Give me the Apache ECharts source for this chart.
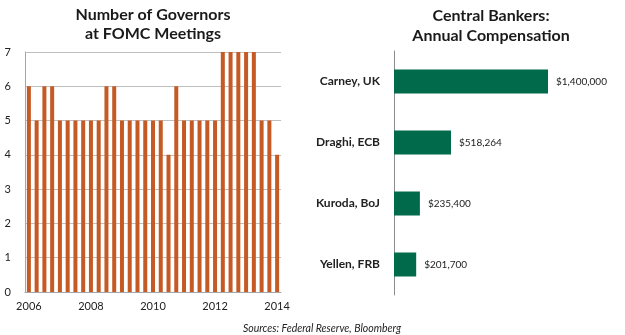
<!DOCTYPE html>
<html>
<head>
<meta charset="utf-8">
<script src="https://cdn.jsdelivr.net/npm/echarts@6/dist/echarts.min.js"></script>
<style>html,body{margin:0;padding:0;background:#fff;}#c{width:625px;height:335px;}</style>
</head>
<body>
<div id="c"></div>
<script>
// Left chart: governors at FOMC meetings (quarterly)
var quarters = ["2006Q1","2006Q2","2006Q3","2006Q4","2007Q1","2007Q2","2007Q3","2007Q4",
  "2008Q1","2008Q2","2008Q3","2008Q4","2009Q1","2009Q2","2009Q3","2009Q4",
  "2010Q1","2010Q2","2010Q3","2010Q4","2011Q1","2011Q2","2011Q3","2011Q4",
  "2012Q1","2012Q2","2012Q3","2012Q4","2013Q1","2013Q2","2013Q3","2013Q4","2014Q1"];
var governors = [6,5,6,6,5,5,5,5,5,5,6,6,5,5,5,5,
  5,5,4,6,5,5,5,5,5,7,7,7,7,7,5,5,4];
var yearTicks = {"2006Q1":"2006","2008Q1":"2008","2010Q1":"2010","2012Q1":"2012","2014Q1":"2014"};

// Right chart: central bankers' compensation
var bankers = ["Carney, UK","Draghi, ECB","Kuroda, BoJ","Yellen, FRB"];
var compensation = [1400000,518264,235400,201700];
var compLabels = ["$1,400,000","$518,264","$235,400","$201,700"];

var chart = echarts.init(document.getElementById('c'));
var font = 'Lato';
chart.setOption({
  animation: false,
  title: [
    {text: 'Number of Governors\nat FOMC Meetings', left: 148, top: 0, textAlign: 'center',
     textStyle: {fontFamily: font, fontSize: 16, fontWeight: 'bold', color: '#1a1a1a', lineHeight: 19}},
    {text: 'Central Bankers:\nAnnual Compensation', left: 486, top: 1, textAlign: 'center',
     textStyle: {fontFamily: font, fontSize: 16, fontWeight: 'bold', color: '#1a1a1a', lineHeight: 20}},
    {text: 'Sources: Federal Reserve, Bloomberg', left: 317, top: 318, textAlign: 'center',
     textStyle: {fontFamily: font, fontSize: 10.5, fontStyle: 'italic', fontWeight: 'normal', color: '#222'}}
  ],
  grid: [
    {left: 25, top: 52, width: 256, height: 240},
    {left: 394, top: 51, width: 220, height: 244}
  ],
  xAxis: [
    {type: 'category', gridIndex: 0, data: quarters, boundaryGap: true,
     axisLine: {lineStyle: {color: '#a6a6a6'}}, axisTick: {show: false},
     axisLabel: {interval: 0, margin: 9, fontFamily: font, fontSize: 11, color: '#222',
       formatter: function (v) { return yearTicks[v] || ''; }}},
    {type: 'value', gridIndex: 1, min: 0, max: 2000000, show: false}
  ],
  yAxis: [
    {type: 'value', gridIndex: 0, min: 0, max: 7, interval: 1,
     axisLine: {show: true, lineStyle: {color: '#a6a6a6'}}, axisTick: {show: false},
     splitLine: {lineStyle: {color: '#bfbfbf'}},
     axisLabel: {margin: 14, fontFamily: font, fontSize: 11, color: '#222'}},
    {type: 'category', gridIndex: 1, data: bankers, inverse: true,
     axisLine: {show: true, lineStyle: {color: '#8c8c8c'}}, axisTick: {show: false},
     axisLabel: {margin: 14, fontFamily: font, fontSize: 12, fontWeight: 'bold', color: '#222'}}
  ],
  series: [
    {type: 'bar', xAxisIndex: 0, yAxisIndex: 0, data: governors, barWidth: 4,
     itemStyle: {color: '#c55a25'}},
    {type: 'bar', xAxisIndex: 1, yAxisIndex: 1, data: compensation, barWidth: 24,
     itemStyle: {color: '#006a4b'},
     label: {show: true, position: 'right', distance: 8, fontFamily: font, fontSize: 10, color: '#222',
       formatter: function (p) { return compLabels[p.dataIndex]; }}}
  ]
});
</script>
</body>
</html>
